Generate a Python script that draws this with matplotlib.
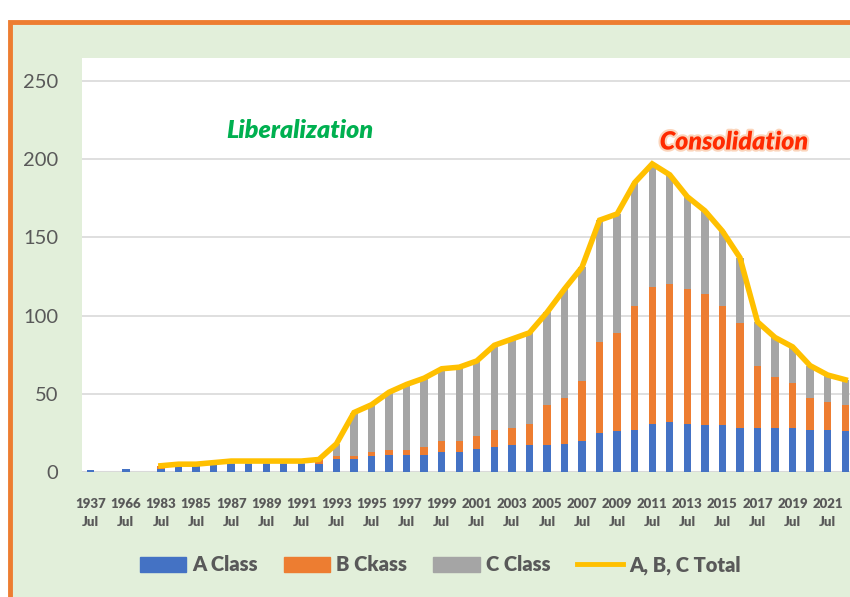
import numpy as np
import matplotlib
matplotlib.use("Agg")
import matplotlib.pyplot as plt
from matplotlib.patches import Rectangle, Patch
from matplotlib.lines import Line2D
import matplotlib.patheffects as pe

# categories (every other one gets a label on the axis)
years = ["1937", "", "1966", ""] + [str(y) for y in range(1983, 2023)]

a_class = [1, 0, 2, 0, 2, 4, 4, 5, 5, 5, 5, 5, 5, 5, 8, 8, 10, 11, 11, 11, 13, 13,
           15, 16, 17, 17, 17, 18, 20, 25, 26, 27, 31, 32, 31, 30, 30, 28, 28, 28,
           28, 27, 27, 26]
b_class = [0, 0, 0, 0, 2, 0, 0, 0, 0, 0, 0, 0, 0, 3, 2, 2, 3, 3, 3, 5, 7, 7,
           8, 11, 11, 14, 26, 29, 38, 58, 63, 79, 87, 88, 86, 84, 76, 67, 40, 33,
           29, 20, 18, 17]
total = [np.nan, np.nan, np.nan, np.nan, 4, 5, 5, 6, 7, 7, 7, 7, 7, 8, 18, 38,
         43, 51, 56, 60, 66, 67, 71, 81, 85, 89, 102, 117, 131, 161, 165, 185,
         197, 190, 176, 167, 154, 137, 96, 86, 80, 68, 62, 59]
c_class = [0, 0, 0, 0, 0, 1, 1, 1, 2, 2, 2, 2, 2, 0, 8, 28, 30, 37, 42, 44, 46,
           47, 48, 54, 57, 58, 59, 70, 73, 78, 76, 79, 79, 70, 59, 53, 48, 42,
           28, 25, 23, 21, 17, 16]

blue = "#4472C4"
orange = "#ED7D31"
gray = "#A5A5A5"
gold = "#FFC000"
txt = "#595959"

plt.rcParams["font.family"] = ["Lato", "DejaVu Sans"]

fig = plt.figure(figsize=(8.5, 5.97), dpi=100)
fig.patch.set_facecolor("white")

# green chart area with orange frame (right/bottom edges fall outside the image)
frame = Rectangle((10 / 850, -0.1), 1.2, 1 - 22 / 597 + 0.1, transform=fig.transFigure,
                  facecolor="#E2EFDA", edgecolor=orange, linewidth=3.5, zorder=-5)
fig.patches.append(frame)

ax = fig.add_axes([82 / 850, 1 - 472 / 597, 772 / 850, (472 - 57.5) / 597])
ax.set_facecolor("white")

x = np.arange(len(years))
a = np.array(a_class)
b = np.array(b_class)
c = np.array(c_class)
w = 0.42
ax.bar(x, a, w, color=blue, zorder=3)
ax.bar(x, b, w, bottom=a, color=orange, zorder=3)
ax.bar(x, c, w, bottom=a + b, color=gray, zorder=3)
ax.plot(x, total, color=gold, linewidth=4, solid_joinstyle="miter", zorder=4)

ax.set_xlim(-0.5, len(years) - 0.5)
ax.set_ylim(0, 265)
ax.set_yticks([0, 50, 100, 150, 200, 250])
ax.yaxis.grid(True, color="#D9D9D9", linewidth=1.2, zorder=0)
ax.axhline(0, color="#D9D9D9", linewidth=1.5, zorder=2)
ax.tick_params(axis="y", length=0, pad=17, labelsize=14.5, labelcolor=txt)

ticks = x[::2]
ax.set_xticks(ticks)
ax.set_xticklabels([years[i] + "\nJul" for i in ticks], fontsize=9.5,
                   fontweight="heavy", color=txt, linespacing=1.6)
ax.tick_params(axis="x", length=0, pad=19)
for s in ax.spines.values():
    s.set_visible(False)

fig.text(300 / 850, 1 - 130 / 597, "Liberalization", fontsize=18, fontweight="heavy",
         fontstyle="italic", color="#00B050", ha="center", va="center")
fig.text(734 / 850, 1 - 142 / 597, "Consolidation", fontsize=18, fontweight="heavy",
         fontstyle="italic", color="#FF2A00", ha="center", va="center",
         path_effects=[pe.withStroke(linewidth=3, foreground="#FBD5BC")])

handles = [Patch(color=blue), Patch(color=orange), Patch(color=gray),
           Line2D([], [], color=gold, linewidth=3.5)]
fig.legend(handles, ["A Class", "B Ckass", "C Class", "A, B, C Total"],
           loc="center", bbox_to_anchor=(440 / 850, 1 - 565 / 597), ncol=4,
           frameon=False, prop={"size": 14.5, "weight": "heavy"}, labelcolor=txt,
           handlelength=2.3, handleheight=0.8, handletextpad=0.3,
           columnspacing=1.3)

fig.savefig("out.png", dpi=100)
